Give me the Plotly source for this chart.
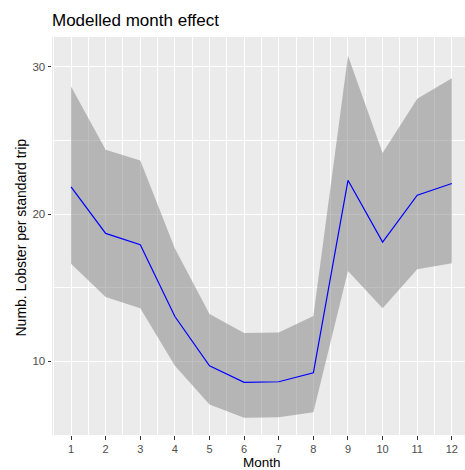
import plotly.graph_objects as go

months = [1, 2, 3, 4, 5, 6, 7, 8, 9, 10, 11, 12]
fit = [21.84, 18.68, 17.91, 13.03, 9.68, 8.56, 8.60, 9.21, 22.29, 18.09, 21.28, 22.07]
upper = [28.66, 24.37, 23.63, 17.66, 13.21, 11.92, 11.94, 13.07, 30.75, 24.14, 27.83, 29.23]
lower = [16.62, 14.36, 13.59, 9.68, 7.06, 6.16, 6.18, 6.52, 16.12, 13.59, 16.24, 16.66]
x_ticks = months
y_ticks = [10, 20, 30]

FONT = "Liberation Sans, Arial, sans-serif"

fig = go.Figure()
fig.add_trace(go.Scatter(
    x=months + months[::-1], y=upper + lower[::-1],
    fill="toself", fillcolor="rgba(127,127,127,0.5)",
    line=dict(width=0), mode="lines", hoverinfo="skip", showlegend=False))
fig.add_trace(go.Scatter(
    x=months, y=fit, mode="lines",
    line=dict(color="#0000FF", width=1.2), showlegend=False))

W, H = 465, 470
L, R, T, B = 52, 0, 37, 35
pw = W - L - R
ph = H - T - B

fig.update_layout(
    width=W, height=H,
    margin=dict(l=L, r=R, t=T, b=B, pad=0),
    paper_bgcolor="white", plot_bgcolor="#EBEBEB",
    font=dict(family=FONT, color="#4D4D4D", size=11),
    title=dict(text="Modelled month effect", x=L / W, xanchor="left",
               y=1 - 20.5 / H, yanchor="middle", yref="container",
               font=dict(size=17, color="black", family=FONT)),
    xaxis=dict(range=[0.45, 12.38], tickmode="array", tickvals=x_ticks,
               ticktext=[str(v) for v in x_ticks],
               showgrid=True, gridcolor="white", gridwidth=1.1,
               minor=dict(tick0=0.5, dtick=1, showgrid=True, gridcolor="white", gridwidth=0.55),
               ticks="outside", ticklen=3.5, tickcolor="#333333", tickwidth=1.1,
               zeroline=False, showline=False,
               tickfont=dict(size=11, color="#4D4D4D")),
    yaxis=dict(range=[4.98, 32.03], tickmode="array", tickvals=y_ticks,
               ticktext=[str(v) for v in y_ticks],
               showgrid=True, gridcolor="white", gridwidth=1.1,
               minor=dict(tick0=5, dtick=10, showgrid=True, gridcolor="white", gridwidth=0.55),
               ticks="outside", ticklen=3.5, tickcolor="#333333", tickwidth=1.1,
               zeroline=False, showline=False,
               tickfont=dict(size=11.5, color="#4D4D4D")),
    annotations=[
        dict(text="Month", xref="paper", yref="paper",
             x=(261.5 - L) / pw, y=(H - B - 462.5) / ph,
             xanchor="center", yanchor="middle", showarrow=False,
             font=dict(size=13.5, color="black", family=FONT)),
        dict(text="Numb. Lobster per standard trip", xref="paper", yref="paper",
             x=(21 - L) / pw, y=(H - B - 237.5) / ph, textangle=-90,
             xanchor="center", yanchor="middle", showarrow=False,
             font=dict(size=14, color="black", family=FONT)),
    ],
)

fig.write_html("out.html")
